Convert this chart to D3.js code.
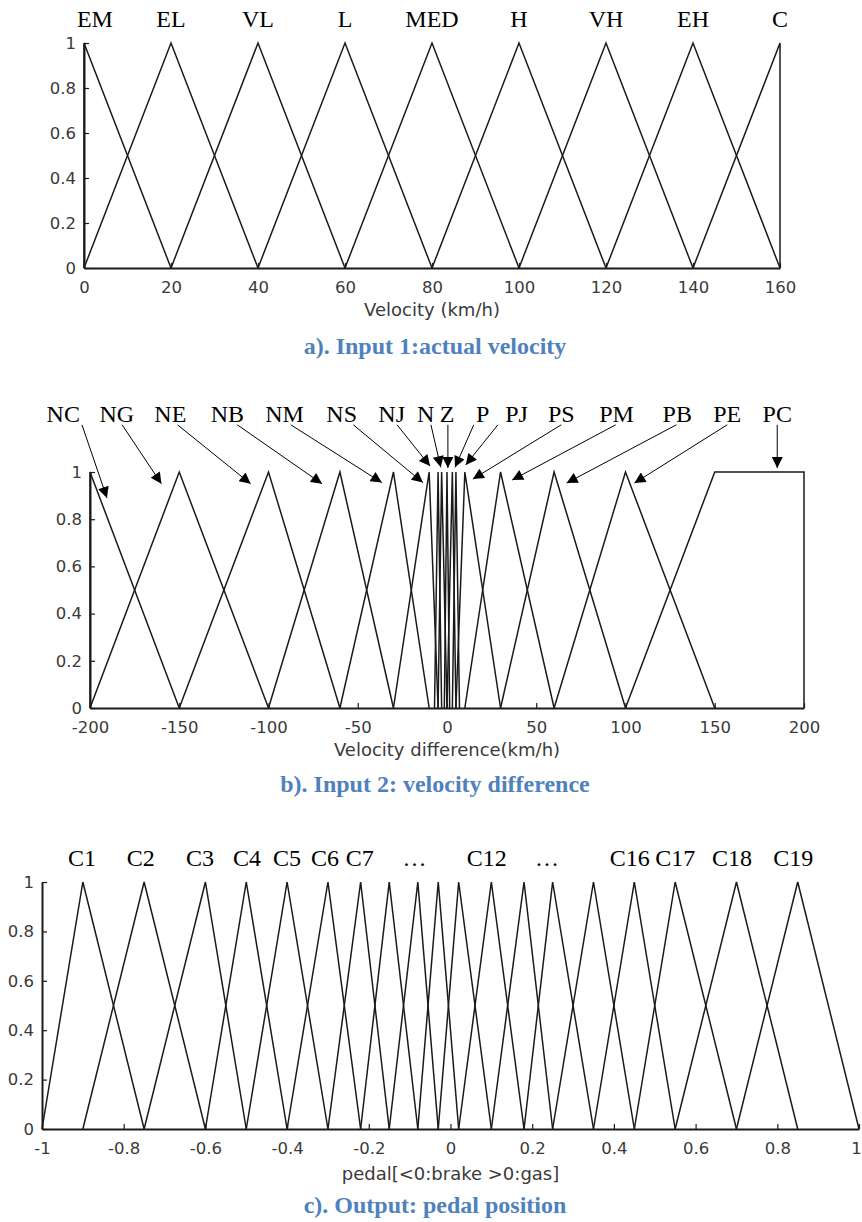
<!DOCTYPE html>
<html>
<head>
<meta charset="utf-8">
<style>
body { margin: 0; background: #fff; }
.tick text { font-family: "DejaVu Sans", sans-serif; font-size: 16.5px; fill: #3a3a3a; }
.mf { fill: none; stroke: #1a1a1a; stroke-width: 1.5; }
.setlabel { font-family: "Liberation Serif", "Times New Roman", serif; font-size: 24px; fill: #000; }
.title { font-family: "DejaVu Sans", sans-serif; font-size: 18px; fill: #3a3a3a; }
.caption { font-family: "Liberation Serif", "Times New Roman", serif; font-size: 24px; font-weight: bold; fill: #4f81bd; }
</style>
</head>
<body>
<svg id="chart" width="862" height="1222"></svg>
<script src="https://cdn.jsdelivr.net/npm/d3@7"></script>
<script>
// ---- data ----
yTicks = [0, 0.2, 0.4, 0.6, 0.8, 1]

// a) actual velocity
velNames = ["EM", "EL", "VL", "L", "MED", "H", "VH", "EH", "C"]
velParams = [
    [0, 0, 20], [0, 20, 40], [20, 40, 60], [40, 60, 80], [60, 80, 100],
    [80, 100, 120], [100, 120, 140], [120, 140, 160], [140, 160, 160]
]
velLabelX = [2.5, 20, 40, 60, 80, 100, 120, 140, 160]
velTicks = [0, 20, 40, 60, 80, 100, 120, 140, 160]

// b) velocity difference
diffNames = ["NC", "NG", "NE", "NB", "NM", "NS", "NJ", "N", "Z", "P", "PJ", "PS", "PM", "PB", "PE", "PC"]
diffParams = [
    [-200, -200, -150], [-200, -150, -100], [-150, -100, -60], [-100, -60, -30],
    [-60, -30, -10], [-30, -10, -5], [-7, -5, -3], [-5, -3, 0], [-1.5, 0, 1.5],
    [0, 3, 5], [3, 5, 7], [5, 10, 30], [10, 30, 60], [30, 60, 100], [60, 100, 150],
    [100, 150, 200, 200]
]
diffLabelX = [-215, -185, -155, -123, -91, -59, -31, -12, 0, 20, 39, 64, 95, 129, 157, 185]
arrowFromX = [-204.5, -182, -151, -117.5, -87.5, -52.5, -28, -9, 0.5, 15, 28.5, 64, 94.5, 128.5, 157, 185]
arrowToX = [-190.5, -160, -110, -70, -36.5, -13.5, -9.5, -3.5, 0.5, 4.5, 10.5, 14.5, 36.5, 67, 105, 185]
arrowToY = [0.89, 0.95, 0.95, 0.95, 0.955, 0.955, 1.025, 1.02, 1.017, 1.02, 1.03, 0.97, 0.966, 0.953, 0.953, 1.017]
arrowFromY = 1.2
diffTicks = [-200, -150, -100, -50, 0, 50, 100, 150, 200]

// c) pedal position
pedalParams = [
    [-1, -0.9, -0.75], [-0.9, -0.75, -0.6], [-0.75, -0.6, -0.5], [-0.6, -0.5, -0.4],
    [-0.5, -0.4, -0.3], [-0.4, -0.3, -0.22], [-0.3, -0.22, -0.15], [-0.22, -0.15, -0.08],
    [-0.15, -0.08, -0.03], [-0.08, -0.03, 0.02], [-0.03, 0.02, 0.1], [0.02, 0.1, 0.18],
    [0.1, 0.18, 0.25], [0.18, 0.25, 0.35], [0.25, 0.35, 0.45], [0.35, 0.45, 0.55],
    [0.45, 0.55, 0.7], [0.55, 0.7, 0.85], [0.7, 0.85, 1]
]
pedalLabels = ["C1", "C2", "C3", "C4", "C5", "C6", "C7", "\u2026", "C12", "\u2026", "C16", "C17", "C18", "C19"]
pedalLabelX = [-0.902, -0.758, -0.613, -0.498, -0.4, -0.307, -0.222, -0.088, 0.089, 0.236, 0.439, 0.55, 0.689, 0.839]
pedalTicks = [-1, -0.8, -0.6, -0.4, -0.2, 0, 0.2, 0.4, 0.6, 0.8, 1]

var svg = d3.select("#chart")

svg.append("defs").append("marker")
    .attr("id", "head")
    .attr("viewBox", "0 0 10 10")
    .attr("refX", 10).attr("refY", 5)
    .attr("markerWidth", 14).attr("markerHeight", 11)
    .attr("markerUnits", "userSpaceOnUse")
    .attr("orient", "auto")
    .append("path").attr("d", "M0,0L10,5L0,10z").attr("fill", "#000")

function toPoints(p) {
    if (p.length == 3) return [[p[0], 0], [p[1], 1], [p[2], 0]]
    return [[p[0], 0], [p[1], 1], [p[2], 1], [p[3], 0]]
}

function panel(o) {
    var x = d3.scaleLinear().domain(o.domain).range(o.xr)
    var y = d3.scaleLinear().domain([0, 1]).range(o.yr)
    var g = svg.append("g")
    var line = d3.line().x(function(d){ return x(d[0]) }).y(function(d){ return y(d[1]) })

    g.selectAll("path.mf").data(o.params).enter().append("path")
        .attr("class", "mf")
        .attr("d", function(d){ return line(toPoints(d)) })

    var ax = g.append("g").attr("transform", "translate(0," + o.yr[0] + ")")
        .call(d3.axisBottom(x).tickValues(o.ticks).tickSizeInner(-5).tickSizeOuter(0).tickPadding(13)
            .tickFormat(function(d){ return String(d) }))
    var ay = g.append("g").attr("transform", "translate(" + o.xr[0] + ",0)")
        .call(d3.axisLeft(y).tickValues(yTicks).tickSizeInner(-5).tickSizeOuter(0).tickPadding(8)
            .tickFormat(function(d){ return String(d) }))
    ;[ax, ay].forEach(function(a){
        a.select(".domain").attr("stroke", "#1a1a1a").attr("stroke-width", 2)
        a.selectAll(".tick line").attr("stroke", "#1a1a1a").attr("stroke-width", 1.2)
    })
    ax.selectAll(".tick text").attr("dy", "0.71em")
    // keep the last tick label inside the page edge
    ax.selectAll(".tick text").filter(function(d){ return x(d) > 850 }).attr("dx", -3)

    g.selectAll("text.setlabel").data(o.labels).enter().append("text")
        .attr("class", "setlabel")
        .attr("text-anchor", "middle")
        .attr("x", function(d, i){ return x(o.labelX[i]) })
        .attr("y", o.labelY)
        .text(function(d){ return d })

    g.append("text").attr("class", "title").attr("text-anchor", "middle")
        .attr("x", (o.xr[0] + o.xr[1]) / 2).attr("y", o.titleY).text(o.title)
    g.append("text").attr("class", "caption").attr("text-anchor", "middle")
        .attr("x", 435).attr("y", o.captionY).text(o.caption)
    return {x: x, y: y, g: g}
}

panel({
    domain: [0, 160], xr: [84, 780], yr: [268, 43], params: velParams, ticks: velTicks,
    labels: velNames, labelX: velLabelX, labelY: 27,
    title: "Velocity (km/h)", titleY: 316, caption: "a). Input 1:actual velocity", captionY: 354
})

var pb = panel({
    domain: [-200, 200], xr: [90, 804], yr: [708, 472], params: diffParams, ticks: diffTicks,
    labels: diffNames, labelX: diffLabelX, labelY: 422,
    title: "Velocity difference(km/h)", titleY: 756, caption: "b). Input 2: velocity difference", captionY: 792
})

pb.g.selectAll("line.arrow").data(diffNames).enter().append("line")
    .attr("class", "arrow")
    .attr("x1", function(d, i){ return pb.x(arrowFromX[i]) })
    .attr("y1", pb.y(arrowFromY))
    .attr("x2", function(d, i){ return pb.x(arrowToX[i]) })
    .attr("y2", function(d, i){ return pb.y(arrowToY[i]) })
    .attr("stroke", "#000").attr("stroke-width", 1)
    .attr("marker-end", "url(#head)")

panel({
    domain: [-1, 1], xr: [42, 859], yr: [1129, 882], params: pedalParams, ticks: pedalTicks,
    labels: pedalLabels, labelX: pedalLabelX, labelY: 866,
    title: "pedal[<0:brake >0:gas]", titleY: 1180, caption: "c). Output: pedal position", captionY: 1213
})
</script>
</body>
</html>
